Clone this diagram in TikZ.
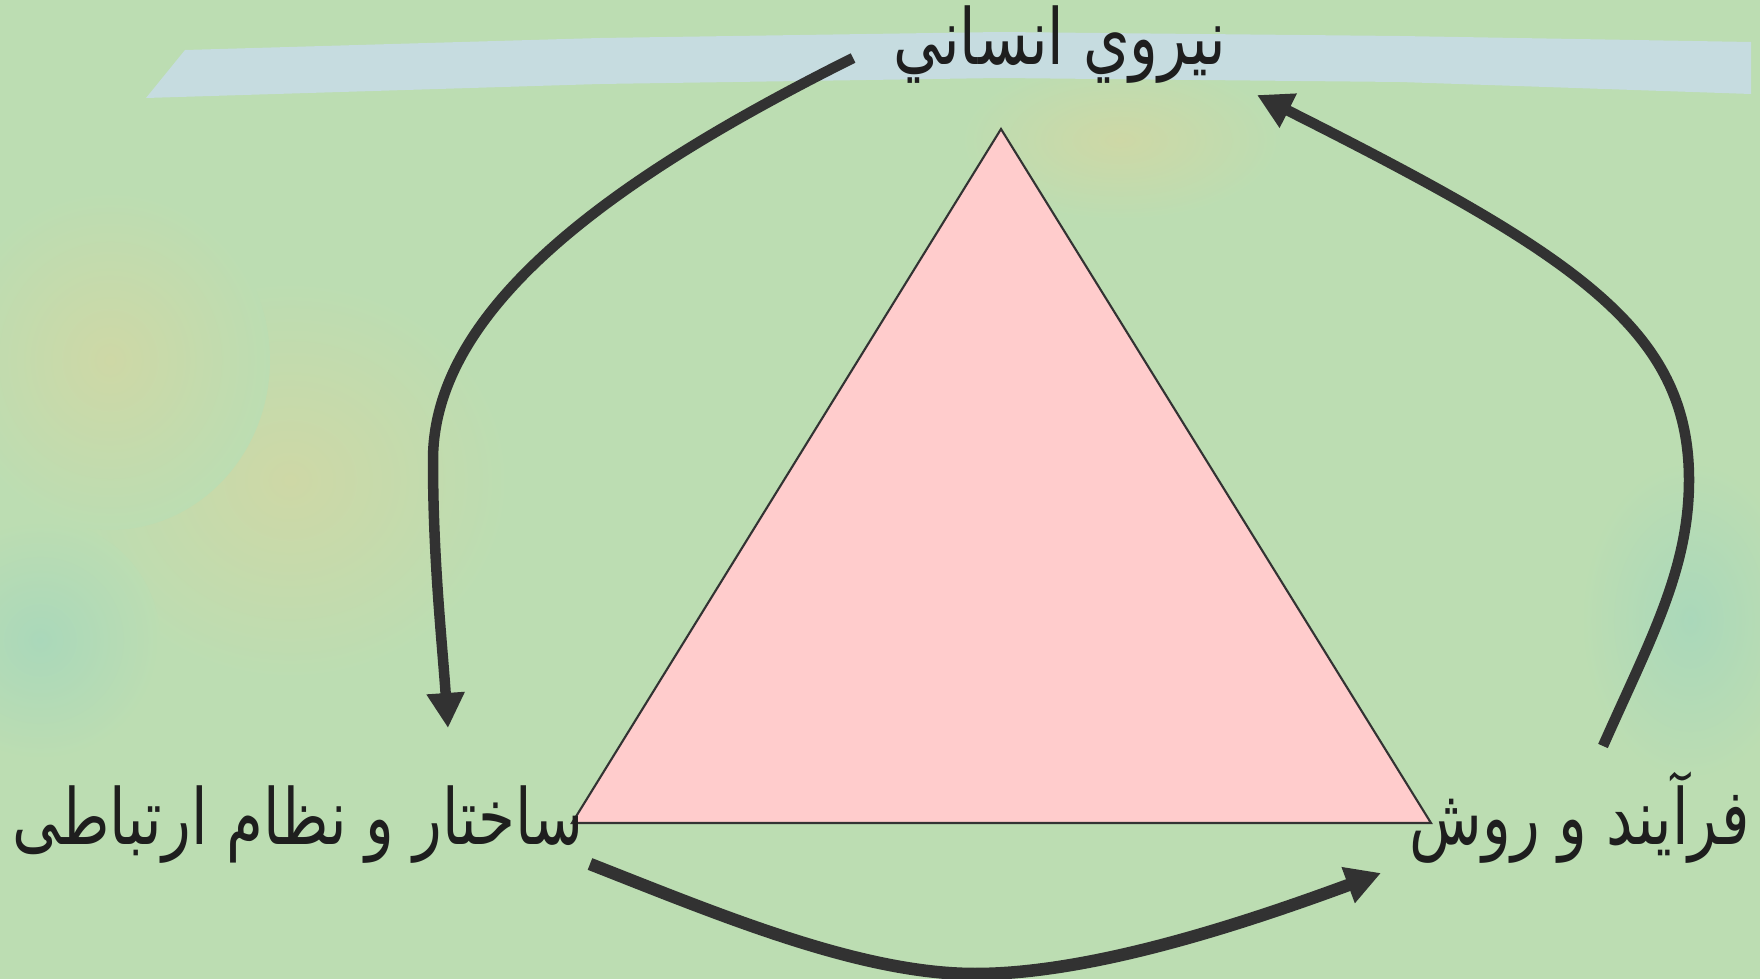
\documentclass[tikz,border=0pt]{standalone}
\usepackage{fontspec}
\newfontfamily\arabicfont[Script=Arabic]{DejaVu Sans}
\TeXXeTstate=1
\usetikzlibrary{arrows.meta}
\definecolor{bg}{RGB}{188,221,178}
\definecolor{band}{RGB}{198,220,224}
\definecolor{tri}{RGB}{255,204,204}
\definecolor{arr}{RGB}{50,50,50}
\definecolor{txt}{RGB}{30,30,30}
\definecolor{warm}{RGB}{206,216,166}
\definecolor{teal}{RGB}{170,216,186}
\newcommand{\artext}[1]{\scalebox{0.77}[1]{\arabicfont\fontsize{22}{26}\selectfont\beginR #1\endR}}
\begin{document}
\begin{tikzpicture}[x=0.01cm,y=-0.01cm,
  flow/.style={draw=arr,line width=0.105cm,-{Triangle[width=0.36cm,length=0.35cm]}},
  lbl/.style={anchor=base,inner sep=0pt,text=txt},
  blob/.style={inner color=#1,outer color=bg}]
\useasboundingbox (0,0) rectangle (1760,979);
\fill[bg] (0,0) rectangle (1760,979);
% soft colour patches of the background
\shade[blob=warm] (290,480) ellipse (220 and 200);
\shade[blob=warm] (110,360) ellipse (160 and 170);
\shade[blob=warm] (1120,140) ellipse (160 and 80);
\shade[blob=teal] (40,640) ellipse (120 and 120);
\shade[blob=teal] (1690,620) ellipse (110 and 160);
% light band at the top
\fill[band] (185,50) -- (600,38) -- (1000,32) -- (1400,36) -- (1751,42)
  -- (1751,94) -- (1400,82) -- (1000,78) -- (600,84) -- (146,98) -- cycle;
% triangle
\coordinate (apex) at (1001,129);
\coordinate (bl) at (572,823);
\coordinate (br) at (1431,823);
\filldraw[fill=tri,draw=black!80,line width=0.6pt] (apex) -- (bl) -- (br) -- cycle;
% labels
\node[lbl] (top) at (1060,65) {\artext{نيروي انساني}};
\node[lbl] (left) at (298,844) {\artext{ساختار و نظام ارتباطی}};
\node[lbl] (right) at (1580,844) {\artext{فرآیند و روش}};
% arrow end and bend points
\coordinate (a0) at (853,58);
\coordinate (a1) at (433,460);
\coordinate (a2) at (448,728);
\coordinate (b0) at (1603,746);
\coordinate (b1) at (1689,480);
\coordinate (b2) at (1257,95);
\coordinate (c0) at (590,864);
\coordinate (cm) at (975,974);
\coordinate (c1) at (1381,873);
\draw[flow] (a0) .. controls (633,168) and (433,300) .. (a1)
               .. controls (433,560) and (442,640) .. (a2);
\draw[flow] (b0) .. controls (1650,640) and (1689,570) .. (b1)
               .. controls (1689,330) and (1577,256) .. (b2);
\draw[flow,line width=0.125cm] (c0) .. controls (720,915) and (860,974) .. (cm)
               .. controls (1090,974) and (1240,925) .. (c1);
\end{tikzpicture}
\end{document}
